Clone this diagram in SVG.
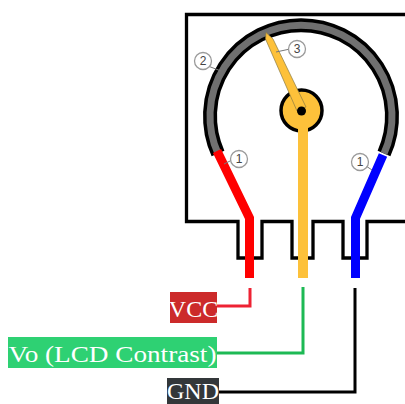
<svg xmlns="http://www.w3.org/2000/svg" width="405" height="404" viewBox="0 0 405 404">
<style>
.o{fill:none;stroke-linejoin:miter}
.lab{font-family:"Liberation Serif",serif;font-size:24px;fill:#fff;text-anchor:middle}
.cal circle{fill:#fff;stroke:#9a9a9a;stroke-width:1.300}
.cal path{fill:none;stroke:#777;stroke-width:1}
.cal text{font-family:"Liberation Sans",sans-serif;font-size:12px;fill:#444;text-anchor:middle}
</style>
<rect width="405" height="404" fill="#fff"/>
<g id="housing">
<path class="o" stroke="#000" stroke-width="3.300" d="M405 14.500H186.500V221.500H238V258H262V221.500H292V258H313V221.500H343V258H367V221.500H405"/>
</g>
<g id="track">
<path class="o" stroke="#000" stroke-width="14" d="M218 153.500A91 91 0 1 1 384 153.500"/>
<path class="o" stroke="#707070" stroke-width="7" d="M218 153.500A91 91 0 1 1 384 153.500"/>
</g>
<g id="pin-vcc">
<path class="o" stroke="#f00" stroke-width="9" d="M217 151L249.500 218V278"/>
</g>
<g id="pin-gnd">
<path class="o" stroke="#00f" stroke-width="9" d="M383 155L355.500 218V278"/>
</g>
<g id="wiper">
<circle cx="301.500" cy="110.500" r="20.500" fill="#fdc13a" stroke="#000" stroke-width="3.500"/>
<path d="M266 32.500L273 39L306 107L297 111L265.500 39Z" fill="#fdc13a" stroke="#8a7a40" stroke-width="0.700"/>
<path d="M303 125V278" class="o" stroke="#fdc13a" stroke-width="10"/>
<circle cx="301.500" cy="111" r="4.500" fill="#000"/>
</g>
<g id="callouts" class="cal">
<path d="M276 52L290 49"/><circle cx="297" cy="49" r="8.500"/><text x="297" y="53">3</text>
<path d="M221 71L208 66"/><circle cx="203" cy="61" r="8.500"/><text x="203" y="65">2</text>
<path d="M224 164L232 160"/><circle cx="239" cy="159" r="8.500"/><text x="239" y="163">1</text>
<path d="M372 170L366 166"/><circle cx="360" cy="162" r="8.500"/><text x="360" y="166">1</text>
</g>
<g id="connectors" fill="none" stroke-width="3">
<path stroke="#ee2233" d="M217 306H250V288"/>
<path stroke="#1db954" d="M217 353H303V287"/>
<path stroke="#000" d="M219 392H355V288"/>
</g>
<g id="node-vcc">
<rect x="170" y="292" width="47" height="31" fill="#cc2a2a"/>
<text class="lab" x="193.500" y="317">VCC</text>
</g>
<g id="node-vo">
<rect x="8" y="337" width="209" height="31" fill="#2ed173"/>
<text class="lab" x="112.500" y="361.500" textLength="208" lengthAdjust="spacingAndGlyphs">Vo (LCD Contrast)</text>
</g>
<g id="node-gnd">
<rect x="167" y="378" width="52" height="26" fill="#33373a"/>
<text class="lab" x="193" y="398.500">GND</text>
</g>
</svg>
